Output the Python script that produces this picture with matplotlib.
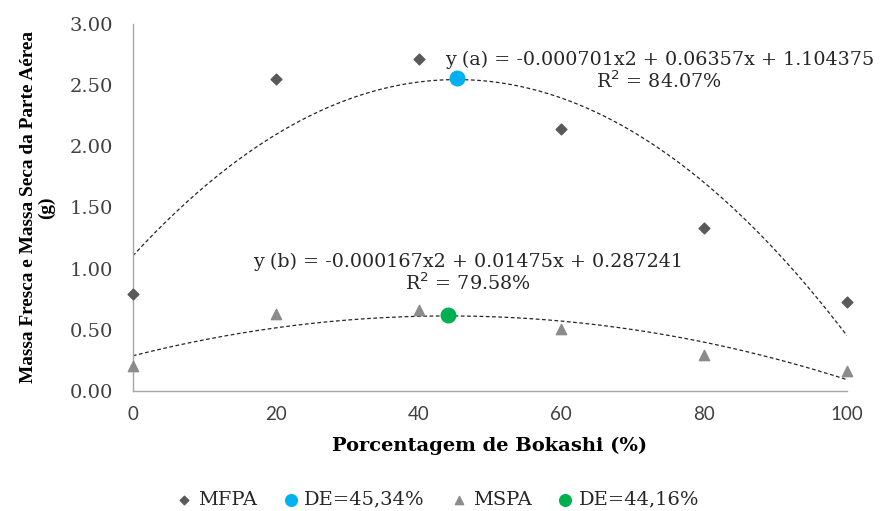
import matplotlib
matplotlib.use("Agg")
import matplotlib.pyplot as plt
import numpy as np

# dados
bokashi = [0, 20, 40, 60, 80, 100]
mfpa = [0.79, 2.55, 2.71, 2.14, 1.33, 0.73]
mspa = [0.20, 0.63, 0.66, 0.51, 0.29, 0.16]
coef_a = [-0.000701, 0.06357, 1.104375]
coef_b = [-0.000167, 0.01475, 0.287241]
de_a = (45.34, 2.56)
de_b = (44.16, 0.62)
yticks = [0.0, 0.5, 1.0, 1.5, 2.0, 2.5, 3.0]
xticks = [0, 20, 40, 60, 80, 100]

serif = ["DejaVu Serif"]
narrow_serif = ["Liberation Serif", "DejaVu Serif"]
sans = ["Lato", "DejaVu Sans"]

fig = plt.figure(figsize=(8.8, 5.11), dpi=100)
ax = fig.add_axes([0.151, 0.235, 0.8115, 0.718])

xs = np.linspace(0, 100, 200)
ax.plot(xs, np.polyval(coef_a, xs), ls=(0, (3, 2)), color="#262626", lw=0.9, zorder=2)
ax.plot(xs, np.polyval(coef_b, xs), ls=(0, (3, 2)), color="#262626", lw=0.9, zorder=2)

ax.scatter(bokashi, mfpa, marker="D", s=30, color="#595959", zorder=3, clip_on=False, label="MFPA")
ax.scatter([de_a[0]], [de_a[1]], marker="o", s=110, color="#00B0F0", zorder=4, label="DE=45,34%")
ax.scatter(bokashi, mspa, marker="^", s=55, color="#8c8c8c", zorder=3, clip_on=False, label="MSPA")
ax.scatter([de_b[0]], [de_b[1]], marker="o", s=110, color="#00B050", zorder=4, label="DE=44,16%")

ax.set_xlim(0, 100)
ax.set_ylim(0, 3.0)
ax.set_xticks(xticks)
ax.set_yticks(yticks)
ax.set_yticklabels([f"{v:.2f}" for v in yticks], fontfamily=serif, fontsize=14)
ax.set_xticklabels([str(v) for v in xticks], fontfamily=sans, fontsize=13.5)
ax.tick_params(length=0, colors="#404040")
ax.tick_params(axis="y", pad=14)
ax.tick_params(axis="x", pad=11)

for side in ["top", "right"]:
    ax.spines[side].set_visible(False)
for side in ["left", "bottom"]:
    ax.spines[side].set_color("#a6a6a6")
    ax.spines[side].set_linewidth(1.0)

ax.set_xlabel("Porcentagem de Bokashi (%)", fontfamily=serif, fontsize=14,
              fontweight="bold", labelpad=10)
ax.set_ylabel("Massa Fresca e Massa Seca da Parte Aérea\n(g)", fontfamily=narrow_serif,
              fontsize=13.9, fontweight="bold", linespacing=1.05)
ax.yaxis.set_label_coords(-0.109, 0.5)

ax.text(73.7, 2.71, "y (a) = -0.000701x2 + 0.06357x + 1.104375", fontfamily=serif,
        fontsize=13.8, ha="center", va="center", color="#262626")
ax.text(73.7, 2.53, "R$^2$ = 84.07%", fontfamily=serif,
        fontsize=13.8, ha="center", va="center", color="#262626")
ax.text(46.9, 1.055, "y (b) = -0.000167x2 + 0.01475x + 0.287241", fontfamily=serif,
        fontsize=13.8, ha="center", va="center", color="#262626")
ax.text(46.9, 0.88, "R$^2$ = 79.58%", fontfamily=serif,
        fontsize=13.8, ha="center", va="center", color="#262626")

leg = fig.legend(loc="center", bbox_to_anchor=(0.497, 0.022), ncol=4, frameon=False,
                 prop={"family": serif, "size": 14}, handlelength=0.9,
                 handletextpad=0.25, columnspacing=1.3, markerscale=0.8)
for t in leg.get_texts():
    t.set_color("#262626")

fig.savefig("out.png", dpi=100)
